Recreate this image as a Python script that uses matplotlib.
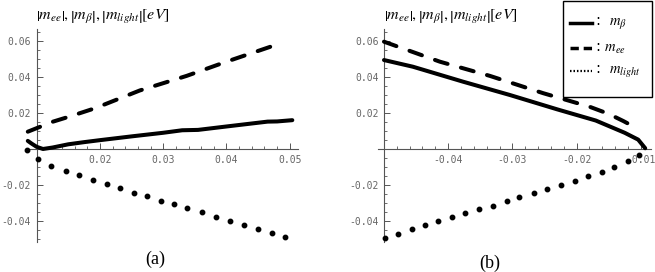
import matplotlib
matplotlib.use("Agg")
import matplotlib.pyplot as plt
from matplotlib.lines import Line2D
from matplotlib.patches import Rectangle
from matplotlib.ticker import MultipleLocator

plt.rcParams['mathtext.fontset'] = 'stix'
plt.rcParams['axes.unicode_minus'] = False
plt.rcParams['lines.scale_dashes'] = False

# panel (a)
a_x_mb = [0.0086, 0.0092, 0.0100, 0.0110, 0.0125, 0.015, 0.0175, 0.020, 0.025, 0.030, 0.033, 0.0355, 0.040, 0.0465, 0.048, 0.0504]
a_mb = [0.0045, 0.0030, 0.0012, 0.0000, 0.0008, 0.0026, 0.0038, 0.0049, 0.0070, 0.0090, 0.0104, 0.0106, 0.0125, 0.0152, 0.0153, 0.0160]
a_x_mee = [0.0086, 0.0126, 0.015, 0.0192, 0.0263, 0.0337, 0.040, 0.0488]
a_mee = [0.0096, 0.0152, 0.0178, 0.0226, 0.0325, 0.0406, 0.0485, 0.0590]
a_x_ml = [0.0085, 0.0102, 0.0123, 0.0146, 0.0167, 0.0189, 0.0211, 0.0232, 0.0254, 0.0275,
          0.0296, 0.0317, 0.0338, 0.0361, 0.0383, 0.0405, 0.0427, 0.0449, 0.0472, 0.0493]
a_ml = [-0.0006, -0.0057, -0.0093, -0.0120, -0.0143, -0.0172, -0.0193, -0.0215, -0.0243, -0.0261,
        -0.0287, -0.0306, -0.0330, -0.0350, -0.0376, -0.0398, -0.0422, -0.0444, -0.0465, -0.0487]

# panel (b)
b_x_mb = [-0.0500, -0.0455, -0.0377, -0.0304, -0.0230, -0.0170, -0.0125, -0.0104, -0.0093]
b_mb = [0.0494, 0.0457, 0.0374, 0.0300, 0.0220, 0.0158, 0.0090, 0.0052, 0.0004]
b_x_mee = [-0.0500, -0.0413, -0.0335, -0.0252, -0.0180, -0.0150, -0.0127, -0.0106]
b_mee = [0.0596, 0.0485, 0.0406, 0.0310, 0.0235, 0.0195, 0.0155, 0.0115]
b_x_ml = [-0.0499, -0.0478, -0.0457, -0.0436, -0.0416, -0.0394, -0.0373, -0.0352, -0.0330, -0.0309,
          -0.0289, -0.0267, -0.0246, -0.0224, -0.0203, -0.0182, -0.0161, -0.0141, -0.0120, -0.0102]
b_ml = [-0.0493, -0.0473, -0.0443, -0.0420, -0.0398, -0.0380, -0.0357, -0.0335, -0.0315, -0.0291,
        -0.0269, -0.0243, -0.0222, -0.0198, -0.0178, -0.0150, -0.0128, -0.0102, -0.0069, -0.0033]

a_xticks = [0.01, 0.02, 0.03, 0.04, 0.05]
a_xlabels = ['', '0.02', '0.03', '0.04', '0.05']
b_xticks = [-0.05, -0.04, -0.03, -0.02, -0.01]
b_xlabels = ['', '-0.04', '-0.03', '-0.02', '-0.01']
yticks = [-0.04, -0.02, 0.0, 0.02, 0.04, 0.06]
ylabels = ['-0.04', '-0.02', '', '0.02', '0.04', '0.06']

ylabel = r'$\left|m_{ee}\right|,\left|m_{\beta}\right|,\left|m_{light}\right|\left[eV\right]$'
legend_labels = [r':  $m_{\beta}$', r': $m_{ee}$', r':  $m_{light}$']

fig = plt.figure(figsize=(6.55, 2.72), dpi=100)
W, H = 655.0, 272.0
ax_a = fig.add_axes([25.9 / W, (H - 241.7) / H, (298 - 25.9) / W, 212.8 / H])
ax_b = fig.add_axes([378.2 / W, (H - 241.7) / H, (651 - 378.2) / W, 212.8 / H])

dash = (0, (9.5, 10))
axis_col = '#555555'
lab_col = '#666666'


def style_axes(ax, x0, xlim, xticks, xlabels):
    ax.set_xlim(*xlim)
    ax.set_ylim(-0.0515, 0.0667)
    for s in ['top', 'right']:
        ax.spines[s].set_visible(False)
    ax.spines['left'].set_position(('data', x0))
    ax.spines['bottom'].set_position(('data', 0))
    for s in ['left', 'bottom']:
        ax.spines[s].set_color(axis_col)
        ax.spines[s].set_linewidth(0.8)
    ax.set_xticks(xticks)
    ax.set_xticklabels(xlabels)
    ax.set_yticks(yticks)
    ax.set_yticklabels(ylabels)
    ax.xaxis.set_minor_locator(MultipleLocator(0.002))
    ax.yaxis.set_minor_locator(MultipleLocator(0.005))
    ax.tick_params(which='major', direction='in', length=4, width=0.7, color=axis_col,
                   labelsize=7, labelcolor=lab_col, pad=4)
    ax.tick_params(which='minor', direction='in', length=2, width=0.6, color=axis_col)
    for t in ax.get_xticklabels() + ax.get_yticklabels():
        t.set_family('DejaVu Sans Mono')
    ax.patch.set_alpha(0)


style_axes(ax_a, 0.01, (0.0083, 0.0513), a_xticks, a_xlabels)
style_axes(ax_b, -0.05, (-0.0509, -0.0084), b_xticks, b_xlabels)

for ax, xs, ys, xe, ye, xl, yl in [
        (ax_a, a_x_mb, a_mb, a_x_mee, a_mee, a_x_ml, a_ml),
        (ax_b, b_x_mb, b_mb, b_x_mee, b_mee, b_x_ml, b_ml)]:
    ax.plot(xs, ys, color='black', lw=2.9, solid_capstyle='round', clip_on=False, zorder=3)
    ax.plot(xe, ye, color='black', lw=2.9, linestyle=dash, dash_capstyle='round', clip_on=False, zorder=3)
    ax.plot(xl, yl, linestyle='none', marker='o', ms=3.2, color='black', clip_on=False, zorder=3)

fig.text(36 / W, 1 - 17 / H, ylabel, fontsize=11.5, ha='left', va='center')
fig.text(384 / W, 1 - 17 / H, ylabel, fontsize=11.5, ha='left', va='center')

fig.text(155 / W, 1 - 259 / H, '(a)', fontsize=13, ha='center', va='center', family='Liberation Serif')
fig.text(490 / W, 1 - 263 / H, '(b)', fontsize=13, ha='center', va='center', family='Liberation Serif')

# legend box drawn by hand, in pixel positions of the figure
fig.patches.append(Rectangle((563 / W, 1 - 97 / H), 89 / W, 96 / H, transform=fig.transFigure,
                             facecolor='white', edgecolor='black', lw=1.0, zorder=5))
samples = [dict(lw=2.5, linestyle='-'),
           dict(lw=2.5, linestyle=(0, (6, 3.5))),
           dict(lw=1.6, linestyle=(0, (1.1, 1.4)))]
rows_y = [23, 48, 71]
for style, y, lab in zip(samples, rows_y, legend_labels):
    fig.lines.append(Line2D([570 / W, 592 / W], [1 - y / H, 1 - y / H], transform=fig.transFigure,
                            color='black', zorder=6, **style))
    fig.text(595 / W, 1 - y / H, lab, fontsize=10.5, ha='left', va='center', zorder=6)

fig.savefig('out.png', dpi=100)
